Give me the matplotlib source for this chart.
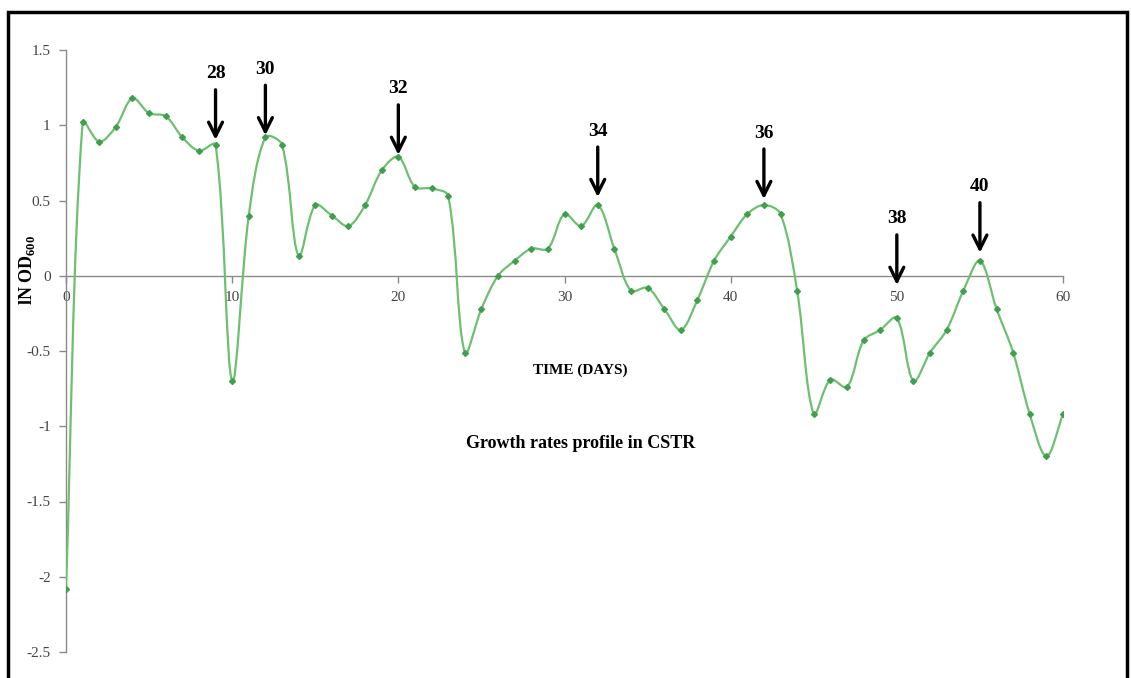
# -*- coding: utf-8 -*-

import numpy as np
import matplotlib
matplotlib.use('Agg')
import matplotlib.pyplot as plt
from matplotlib.path import Path
from matplotlib.patches import PathPatch, Rectangle

days = np.arange(61)
ln_od = [-2.08, 1.02, 0.89, 0.99, 1.18, 1.08, 1.06, 0.92, 0.83, 0.87,
         -0.70, 0.40, 0.92, 0.87, 0.13, 0.47, 0.40, 0.33, 0.47, 0.70,
         0.79, 0.59, 0.58, 0.53, -0.51, -0.22, 0.00, 0.10, 0.18, 0.18,
         0.41, 0.33, 0.47, 0.18, -0.10, -0.08, -0.22, -0.36, -0.16, 0.10,
         0.26, 0.41, 0.47, 0.41, -0.10, -0.92, -0.69, -0.74, -0.43, -0.36,
         -0.28, -0.70, -0.51, -0.36, -0.10, 0.10, -0.22, -0.51, -0.92, -1.20,
         -0.92]

arrow_labels = ['28', '30', '32', '34', '36', '38', '40']
arrow_days = [9, 12, 20, 32, 42, 50, 55]
arrow_gap_px = [5, 2, 2, 8, 6, 33, 8]  # space between arrow tip and the point

yticks = [-2.5, -2, -1.5, -1, -0.5, 0, 0.5, 1, 1.5]
xticks = [0, 10, 20, 30, 40, 50, 60]

line_green = '#6cc070'
marker_green = '#3f9f4c'

plt.rcParams['font.family'] = ['Liberation Serif', 'DejaVu Serif']
plt.rcParams['mathtext.fontset'] = 'custom'
plt.rcParams['mathtext.rm'] = 'Liberation Serif'
plt.rcParams['mathtext.bf'] = 'Liberation Serif:bold'


def smooth_path(x, y, sx, sy):
    # smoothed line like a spreadsheet: Bezier handles sized by the
    # neighbouring segment lengths (worked out in pixel space)
    px_ = np.asarray(x, float) * sx
    py_ = np.asarray(y, float) * sy
    n = len(px_)
    pts = np.column_stack([px_, py_])
    verts = [pts[0]]
    codes = [Path.MOVETO]
    for i in range(n - 1):
        i0 = max(i - 1, 0)
        i3 = min(i + 2, n - 1)
        seg = np.linalg.norm(pts[i + 1] - pts[i])
        t1 = pts[i + 1] - pts[i0]
        l1 = np.linalg.norm(pts[i] - pts[i0]) + seg
        t2 = pts[i3] - pts[i]
        l2 = seg + np.linalg.norm(pts[i3] - pts[i + 1])
        c1 = pts[i] + t1 * (seg / l1) / 3 if l1 > 0 else pts[i]
        c2 = pts[i + 1] - t2 * (seg / l2) / 3 if l2 > 0 else pts[i + 1]
        verts += [c1, c2, pts[i + 1]]
        codes += [Path.CURVE4] * 3
    verts = np.array(verts)
    verts[:, 0] /= sx
    verts[:, 1] /= sy
    return Path(verts, codes)


fig = plt.figure(figsize=(11.31, 6.78), dpi=100)
ax = fig.add_axes([66 / 1131, 1 - 652 / 678, 997 / 1131, 602 / 678])

ax.set_xlim(0, 60)
ax.set_ylim(-2.5, 1.5)
sx = 997 / 60.0
sy = 602 / 4.0
ax.add_patch(PathPatch(smooth_path(days, ln_od, sx, sy), fill=False,
                       ec=line_green, lw=1.6, zorder=3))
ax.plot(days, ln_od, ls='none', marker='D', ms=3.0,
        color=marker_green, zorder=4)

ax.spines['top'].set_visible(False)
ax.spines['right'].set_visible(False)
ax.spines['bottom'].set_position(('data', 0))
for s in ['left', 'bottom']:
    ax.spines[s].set_color('#8a8a8a')
    ax.spines[s].set_linewidth(1.0)

ax.set_xticks(xticks)
ax.set_yticks(yticks)
ax.set_yticklabels(['%g' % v for v in yticks])
ax.tick_params(axis='both', colors='#8a8a8a', labelcolor='#444444',
               labelsize=11, length=5, width=1.0)
ax.tick_params(axis='x', pad=6)
ax.tick_params(axis='y', pad=6)

ax.set_ylabel(r'lN OD$_{\mathbf{600}}$', fontsize=13, fontweight='bold')
ax.yaxis.set_label_coords(-0.029, 0.635)
ax.text(0.516, 0.468, 'TIME (DAYS)', transform=ax.transAxes,
        ha='center', va='center', fontsize=11, fontweight='bold')
ax.text(0.516, 0.346, 'Growth rates profile in CSTR', transform=ax.transAxes,
        ha='center', va='center', fontsize=13, fontweight='bold')

px = 72 / 100
for lab, d, gap in zip(arrow_labels, arrow_days, arrow_gap_px):
    v = ln_od[d]
    ax.annotate('', xy=(d, v), xytext=(0, (gap + 50) * px),
                textcoords='offset points',
                arrowprops=dict(arrowstyle='->,head_length=0.5,head_width=0.25',
                                lw=2.4, color='black', mutation_scale=20,
                                shrinkA=0, shrinkB=gap * px))
    ax.annotate(lab, xy=(d, v), xytext=(0, (gap + 66) * px),
                textcoords='offset points', ha='center', va='center',
                fontsize=14, fontweight='bold')

fig.add_artist(Rectangle((8 / 1131, -0.05), 1119 / 1131, 1.05 - 12 / 678,
                         transform=fig.transFigure, fill=False,
                         ec='black', lw=2.5))

fig.savefig('out.png', dpi=100)
